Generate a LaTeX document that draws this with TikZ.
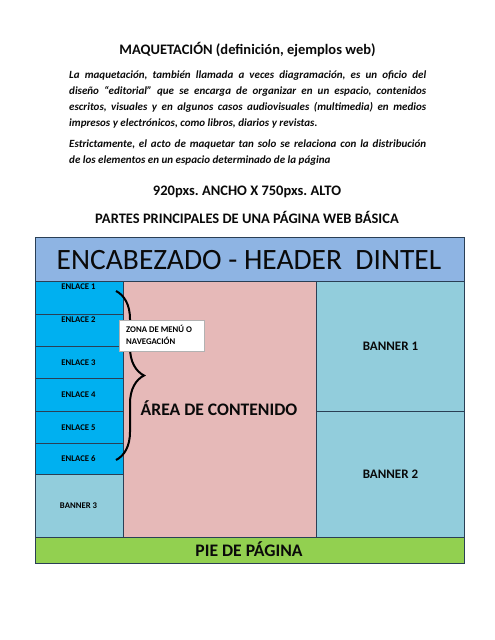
\documentclass[tikz,border=0pt]{standalone}
\usepackage{fontspec}
\setmainfont{Carlito}
\usetikzlibrary{decorations.pathreplacing}
\definecolor{hdr}{HTML}{8EB4E3}
\definecolor{lnk}{HTML}{00B0F0}
\definecolor{aqua}{HTML}{92CDDC}
\definecolor{rosa}{HTML}{E6B9B8}
\definecolor{verde}{HTML}{92D050}
\definecolor{edge}{HTML}{2A3F55}
\definecolor{txt}{HTML}{0A0A0A}
\begin{document}
\frenchspacing
\begin{tikzpicture}[x=1pt,y=-1pt,
  cell/.style={draw=edge, line width=0.9pt, inner sep=0pt, anchor=north west},
  small/.style={font=\fontsize{8.7}{10.5}\selectfont\bfseries, text=black, inner sep=0pt},
  mid/.style={font=\fontsize{13}{15}\selectfont\bfseries, text=txt, inner sep=0pt},
  big/.style={font=\fontsize{17.6}{20}\selectfont\bfseries, text=txt, inner sep=0pt},
  heading/.style={font=\fontsize{14.5}{17}\selectfont\bfseries, text=txt, inner sep=0pt, anchor=base},
  para/.style={font=\fontsize{11}{15.8}\selectfont\bfseries\itshape, text=txt, inner sep=0pt, text width=357pt, align=justify, anchor=north west}]
\useasboundingbox (0,0) rectangle (495,640);
\fill[white] (0,0) rectangle (495,640);

% headings and text
\node[heading] (title) at (247.5,54) {MAQUETACIÓN (definición, ejemplos web)};
\node[para] (p1) at (69,71) {La maquetación, también llamada a veces diagramación, es un oficio del\linebreak diseño “editorial” que se encarga de organizar en un espacio, contenidos\linebreak escritos, visuales y en algunos casos audiovisuales (multimedia) en medios\linebreak impresos y electrónicos, como libros, diarios y revistas.};
\node[para] (p2) at (69,140) {Estrictamente, el acto de maquetar tan solo se relaciona con la distribución\linebreak de los elementos en un espacio determinado de la página};
\node[heading] (dims) at (247,195) {920pxs. ANCHO X 750pxs. ALTO};
\node[heading] (partes) at (247,223) {PARTES PRINCIPALES DE UNA PÁGINA WEB BÁSICA};

% layout cells
\node[cell, fill=hdr, minimum width=429pt, minimum height=44pt] (header) at (35,237) {};
\node[cell, fill=lnk, minimum width=88pt, minimum height=33pt] (enl1) at (35,281) {};
\node[cell, fill=lnk, minimum width=88pt, minimum height=32pt] (enl2) at (35,314) {};
\node[cell, fill=lnk, minimum width=88pt, minimum height=32pt] (enl3) at (35,346) {};
\node[cell, fill=lnk, minimum width=88pt, minimum height=33pt] (enl4) at (35,378) {};
\node[cell, fill=lnk, minimum width=88pt, minimum height=32pt] (enl5) at (35,411) {};
\node[cell, fill=lnk, minimum width=88pt, minimum height=31pt] (enl6) at (35,443) {};
\node[cell, fill=aqua, minimum width=88pt, minimum height=63pt] (ban3) at (35,474) {};
\node[cell, fill=rosa, minimum width=193pt, minimum height=256pt] (content) at (123,281) {};
\node[cell, fill=aqua, minimum width=148pt, minimum height=130pt] (ban1) at (316,281) {};
\node[cell, fill=aqua, minimum width=148pt, minimum height=126pt] (ban2) at (316,411) {};
\node[cell, fill=verde, minimum width=429pt, minimum height=26pt] (footer) at (35,537) {};

% labels
\node[font=\fontsize{29.5}{32}\selectfont, text=txt, inner sep=0pt, anchor=base] (hdrtxt) at (249,269) {ENCABEZADO - HEADER\ \ DINTEL};
\node[small, anchor=base] (l1) at (78.5,289) {ENLACE 1};
\node[small, anchor=base] (l2) at (78.5,322.5) {ENLACE 2};
\node[small, anchor=base] (l3) at (78.5,365) {ENLACE 3};
\node[small, anchor=base] (l4) at (78.5,397.5) {ENLACE 4};
\node[small, anchor=base] (l5) at (78.5,430) {ENLACE 5};
\node[small, anchor=base] (l6) at (78.5,461.5) {ENLACE 6};
\node[small, anchor=base] (l7) at (78.5,508.5) {BANNER 3};
\node[mid] (b1) at (ban1.center) {BANNER 1};
\node[mid] (b2) at (ban2.center) {BANNER 2};
\node[big, anchor=base] (area) at (219,415) {ÁREA DE CONTENIDO};
\node[big, anchor=base] (pie) at (249,556) {PIE DE PÁGINA};

% brace
\coordinate (braceTop) at (116,291);
\coordinate (braceBot) at (116,460);
\draw[decorate, decoration={brace, amplitude=28pt}, line width=2pt, black] (braceTop) -- (braceBot);

% menu zone box
\node[draw=gray!60, line width=0.6pt, fill=white, minimum width=85pt, minimum height=31pt, inner sep=0pt, anchor=north west] (zona) at (119,320) {};
\node[small, align=left, anchor=north west] (zonatxt) at (126,325) {ZONA DE MENÚ O\\[1.5pt]NAVEGACIÓN};
\end{tikzpicture}
\end{document}
